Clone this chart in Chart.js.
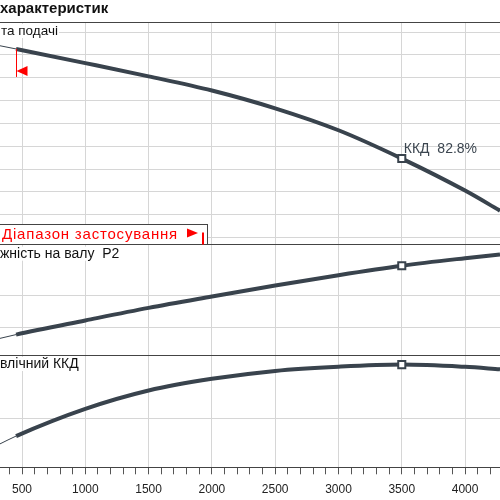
<!DOCTYPE html>
<html>
<head>
<meta charset="utf-8">
<style>
html, body { margin: 0; padding: 0; background: #fff; }
#wrap { width: 500px; height: 500px; }
</style>
<script src="https://cdn.jsdelivr.net/npm/chart.js@4.4.1/dist/chart.umd.min.js"></script>
</head>
<body>
<div id="wrap"><canvas id="pump" width="500" height="500"></canvas></div>
<script>
// values (flow, then head / shaft power / efficiency)
var flow  = [326, 453, 1000, 1500, 2000, 2500, 3000, 3500, 4000, 4276];
var head  = [47.0, 46.3, 43.2, 40.3, 37.2, 33.3, 28.5, 22.3, 15.3, 10.9];
var power = [26.5, 27.7, 32.2, 36.2, 39.8, 43.3, 46.6, 49.6, 52.0, 53.2];
var eff   = [19.8, 26.0, 47.6, 62.2, 71.5, 77.8, 81.1, 82.8, 81.0, 79.1];

var flowLabels = [500, 1000, 1500, 2000, 2500, 3000, 3500, 4000];
var headGrid  = [5, 10, 15, 20, 25, 30, 35, 40, 45, 50];
var powerGrid = [30, 40];
var effGrid   = [40];

var rangeStart = 453;   // start of the application range
var dutyFlow = 3500;
var dutyLabel = 'ККД  82.8%';

var lineCol = '#39434d';
var gridCol = '#d6d6d6';
var edgeCol = '#444444';
var FONT = '"Liberation Sans", Arial, sans-serif';

function pts(ys) {
	var out = [];
	for (var i = 0; i < flow.length; i++) out.push({x: flow[i], y: ys[i]});
	return out;
}

function curve(label, ys, axis) {
	return {
		label: label,
		data: pts(ys),
		yAxisID: axis,
		borderColor: lineCol,
		borderWidth: 4,
		cubicInterpolationMode: 'monotone',
		pointStyle: 'rect',
		pointRadius: function (c) { return flow[c.dataIndex] === dutyFlow ? 5 : 0; },
		pointHoverRadius: 0,
		pointBorderWidth: 2,
		pointBorderColor: lineCol,
		pointBackgroundColor: '#fff',
		segment: {
			borderWidth: function (c) { return c.p0.parsed.x < rangeStart ? 1 : 4; }
		}
	};
}

// horizontal grid of one panel: its own lines plus the panel edges
function panelAxis(lo, hi, grid, w, order) {
	return {
		type: 'linear',
		position: 'left',
		stack: 'panels',
		stackWeight: w,
		weight: order,
		min: lo,
		max: hi,
		afterBuildTicks: function (s) {
			var t = [{value: lo}];
			grid.forEach(function (v) { t.push({value: v}); });
			t.push({value: hi});
			s.ticks = t;
		},
		ticks: { display: false },
		border: { display: false },
		grid: {
			drawTicks: false,
			color: function (c) {
				return (c.tick.value === lo || c.tick.value === hi) ? edgeCol : gridCol;
			}
		}
	};
}

function textBox(ctx, text, x, y, font, color) {
	ctx.font = font;
	var w = ctx.measureText(text).width;
	ctx.fillStyle = '#fff';
	ctx.fillRect(x - 1, y - 7, w + 2, 14);
	ctx.fillStyle = color;
	ctx.textBaseline = 'middle';
	ctx.fillText(text, x, y);
}

var overlay = {
	id: 'overlay',
	afterDatasetsDraw: function (chart) {
		var ctx = chart.ctx, a = chart.chartArea, sx = chart.scales.x;
		var yH = chart.scales.yH, yP = chart.scales.yP, yE = chart.scales.yE;
		ctx.save();

		// heading (cut at the left like the original)
		ctx.font = 'bold 15px ' + FONT;
		ctx.fillStyle = '#111';
		ctx.textBaseline = 'alphabetic';
		ctx.fillText('характеристик', 0, 13);

		// panel names
		textBox(ctx, 'та подачі', a.left + 1, yH.top + 9, '13.5px ' + FONT, '#111');
		textBox(ctx, 'жність на валу  P2', a.left, yP.top + 9, '14px ' + FONT, '#111');
		textBox(ctx, 'влічний ККД', a.left, yE.top + 8, '14px ' + FONT, '#111');

		// duty point text
		var di = flow.indexOf(dutyFlow);
		ctx.font = '14px ' + FONT;
		ctx.fillStyle = '#3c4650';
		ctx.textBaseline = 'middle';
		ctx.fillText(dutyLabel, sx.getPixelForValue(dutyFlow) + 2, yH.getPixelForValue(head[di]) - 9);

		// minimum flow marker
		var px = Math.round(sx.getPixelForValue(rangeStart)) + 0.5;
		var py = yH.getPixelForValue(head[1]);
		ctx.strokeStyle = '#ff0000';
		ctx.fillStyle = '#ff0000';
		ctx.lineWidth = 1;
		ctx.beginPath();
		ctx.moveTo(px, py);
		ctx.lineTo(px, py + 28);
		ctx.stroke();
		ctx.beginPath();
		ctx.moveTo(px, py + 22);
		ctx.lineTo(px + 11, py + 17);
		ctx.lineTo(px + 11, py + 27);
		ctx.closePath();
		ctx.fill();

		// application range box
		var bx = a.left - 1, bw = 208.5, bt = Math.round(yH.bottom) - 20.5, bh = 20;
		ctx.fillStyle = '#fff';
		ctx.fillRect(bx, bt, bw, bh);
		ctx.strokeStyle = edgeCol;
		ctx.strokeRect(bx, bt, bw, bh);
		ctx.font = '15px ' + FONT;
		ctx.letterSpacing = '0.8px';
		ctx.fillStyle = '#ff0000';
		ctx.textBaseline = 'middle';
		ctx.fillText('Діапазон застосування', a.left + 2, bt + 10);
		ctx.letterSpacing = '0px';
		ctx.beginPath();
		ctx.moveTo(a.left + 187, bt + 4);
		ctx.lineTo(a.left + 198, bt + 8.5);
		ctx.lineTo(a.left + 187, bt + 13);
		ctx.closePath();
		ctx.fill();
		ctx.fillRect(a.left + 202, bt + 8, 2, 12);

		ctx.restore();
	}
};

new Chart(document.getElementById('pump'), {
	type: 'line',
	data: {
		datasets: [
			curve('Висота подачі', head, 'yH'),
			curve('Потужність на валу P2', power, 'yP'),
			curve('Гідравлічний ККД', eff, 'yE')
		]
	},
	options: {
		responsive: false,
		animation: false,
		events: [],
		layout: { padding: { top: 22, left: 0, right: 0, bottom: -4.7 } },
		plugins: { legend: { display: false }, tooltip: { enabled: false } },
		scales: {
			x: {
				type: 'linear',
				min: 326,
				max: 4276,
				afterBuildTicks: function (s) {
					var t = [];
					for (var v = 400; v <= 4200; v += 100) t.push({value: v});
					s.ticks = t;
				},
				ticks: {
					autoSkip: false,
					maxRotation: 0,
					padding: 8,
					color: '#222',
					font: { family: FONT, size: 12 },
					callback: function (v) { return flowLabels.indexOf(v) >= 0 ? String(v) : ''; }
				},
				border: { display: true, color: edgeCol },
				grid: {
					tickLength: 7,
					tickColor: '#555',
					color: function (c) { return flowLabels.indexOf(c.tick.value) >= 0 ? gridCol : 'rgba(0,0,0,0)'; }
				}
			},
			yH: panelAxis(3.46, 52.2, headGrid, 2, 3),
			yP: panelAxis(20.9, 56.3, powerGrid, 1, 2),
			yE: panelAxis(1.2, 89.65, effGrid, 1, 1)
		}
	},
	plugins: [overlay]
});
</script>
</body>
</html>
